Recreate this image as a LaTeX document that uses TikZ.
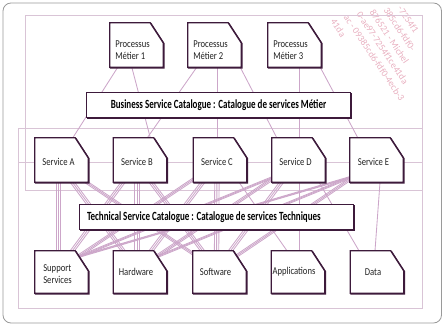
\documentclass[tikz,border=0pt]{standalone}
\usepackage{fontspec}
\setmainfont{Carlito}
\newfontfamily\cardfont[FakeStretch=0.82]{Carlito}
\newfontfamily\catfont[FakeStretch=0.72]{Carlito}
\usetikzlibrary{calc}
\pgfdeclarelayer{back}
\pgfdeclarelayer{mid}
\pgfsetlayers{back,mid,main}
\definecolor{boxline}{HTML}{3D1A3B}
\definecolor{conn}{HTML}{CCA6C9}
\definecolor{rectline}{HTML}{D9C4D6}
\definecolor{frameline}{HTML}{9A9A9A}
\definecolor{wmark}{HTML}{E8B0C0}
\definecolor{txt}{HTML}{222222}
\tikzset{
  cardbox/.style={minimum width=53pt, minimum height=44pt, inner sep=0pt},
  cardtext/.style={font=\cardfont\fontsize{10.5}{12.5}\selectfont, text=txt, align=left, inner sep=0pt},
  catbox/.style={minimum height=24pt, inner ysep=0pt, inner xsep=7pt, font=\catfont\bfseries\fontsize{12.5}{14}\selectfont, text=black},
  outline/.style={draw=boxline, line width=1.3pt, fill=white, line join=miter},
  shade/.style={draw=boxline, line width=1.3pt, line join=miter},
  link/.style={draw=conn, line width=0.85pt},
  grp/.style={draw=rectline, line width=0.9pt},
  wm/.style={font=\fontsize{9.5}{11}\selectfont, text=wmark, inner sep=0pt, anchor=north west},
}
\begin{document}
\begin{tikzpicture}[x=1pt, y=-1pt]
\useasboundingbox (0,0) rectangle (444,326);
% ---------- nodes ----------
\node[cardbox, label={[cardtext, name=p1t, xshift=-4pt, yshift=-5pt]center:Processus\\Métier 1}] (p1) at (136.5,45) {};
\node[cardbox, label={[cardtext, name=p2t, xshift=-4pt, yshift=-5pt]center:Processus\\Métier 2}] (p2) at (214.5,45) {};
\node[cardbox, label={[cardtext, name=p3t, xshift=-4pt, yshift=-5pt]center:Processus\\Métier 3}] (p3) at (294.5,45) {};
\node[catbox, minimum width=263pt] (bsc) at (218.5,105) {Business Service Catalogue : Catalogue de services Métier};
\node[cardbox, label={[cardtext, name=sat, xshift=-3pt, yshift=-2pt]center:Service A}] (sa) at (61.5,160) {};
\node[cardbox, label={[cardtext, name=sbt, xshift=-3pt, yshift=-2pt]center:Service B}] (sb) at (140,160) {};
\node[cardbox, label={[cardtext, name=sct, xshift=-3pt, yshift=-2pt]center:Service C}] (sc) at (220,160) {};
\node[cardbox, label={[cardtext, name=sdt, xshift=-3pt, yshift=-2pt]center:Service D}] (sd) at (298.5,160) {};
\node[cardbox, label={[cardtext, name=set, xshift=-3pt, yshift=-2pt]center:Service E}] (se) at (376.5,160) {};
\node[catbox, minimum width=273pt] (tsc) at (216.5,217) {\makebox[259pt][l]{Technical Service Catalogue : Catalogue de services Techniques}};
\node[cardbox, minimum height=42pt, label={[cardtext, name=sst, xshift=-4pt, yshift=-2pt]center:Support\\Services}] (ss) at (61.5,272) {};
\node[cardbox, minimum height=42pt, label={[cardtext, name=hwt, xshift=-4pt, yshift=0pt]center:Hardware}] (hw) at (140,272) {};
\node[cardbox, minimum height=42pt, label={[cardtext, name=swt, xshift=-4pt, yshift=0pt]center:Software}] (sw) at (219.5,272) {};
\node[cardbox, minimum height=42pt, label={[cardtext, name=apt, xshift=-4pt, yshift=0pt]center:Applications}] (ap) at (298,272) {};
\node[cardbox, minimum height=42pt, label={[cardtext, name=dat, xshift=-4pt, yshift=0pt]center:Data}] (da) at (377,272) {};
\coordinate (hl) at (18,162);
\coordinate (hr) at (422,162);
% ---------- background: frame, groups, watermark, connectors ----------
\begin{pgfonlayer}{back}
\draw[frameline, line width=0.8pt, rounded corners=8pt] (3,3) rectangle (441.5,323);
\begin{scope}
\clip (328,5) rectangle (431,132);
\foreach \px/\py/\tx [count=\i] in {330/18/41da, 343/14/{ac - 09385cd6-fdf0-4ecb-3}, 356/11/{0-ae97-7254f1ce41da}, 369/9/{876521 - Michel}, 383/7/{385cd6-fdf0-}, 397/5/{-7254f1}}
  \node[wm] (wm\i) at (\px,\py) {\rotatebox{-56}{\tx}};
\end{scope}
\draw[grp] (25,15) rectangle (422,190);
\draw[grp] (18,128) rectangle (422,308);
\draw[grp] (hl) -- (hr);
% business links
\draw[link] ([xshift=8pt]p1.south west) -- ([xshift=38pt]sa.north west);
\draw[link] ([xshift=22pt]p1.south west) -- ([xshift=37pt]sb.north west);
\draw[link] ([xshift=9pt]p2.south west) -- ([xshift=34pt]sb.north west);
\draw[link] ([xshift=30pt]p2.south west) -- ([xshift=24.5pt]sc.north west);
\draw[link] ([xshift=-1pt]p2.south east) -- ([xshift=5pt]sd.north west);
\draw[link] ([xshift=32pt]p3.south west) -- ([xshift=28pt]sd.north west);
\draw[link] ([xshift=-1pt]p3.south east) -- ([xshift=8pt]se.north west);
% technical links
\foreach \s/\sx in {sa/61.5,sb/140,sc/220,sd/298.5,se/376.5}
  \foreach \t/\tx in {ss/61.5,hw/140,sw/219.5} {
    \pgfmathsetmacro\os{max(-20,min(20,0.12*(\tx-\sx)))}
    \foreach \k in {-2.2,0,2.2} {
      \pgfmathsetmacro\xa{\os+(\k)-3}
      \pgfmathsetmacro\xb{(\k)-3-(\os)}
      \draw[link] ([xshift=\xa pt, yshift=6pt]\s.south) -- ([xshift=\xb pt, yshift=-6pt]\t.north);
    }
  }
\draw[link] ([xshift=19pt]sc.south) -- ([xshift=-11pt]ap.north);
\draw[link] ([xshift=0.5pt]sd.south) -- ([xshift=1pt]ap.north);
\draw[link] ([xshift=20.5pt]sd.south) -- ([xshift=-18pt]da.north);
\draw[link] ([xshift=3.5pt]se.south) -- ([xshift=-2pt]da.north);
\end{pgfonlayer}
% ---------- box outlines ----------
\begin{pgfonlayer}{mid}
\foreach \n in {p1,p2,p3,sa,sb,sc,sd,se,ss,hw,sw,ap,da} {
  \draw[shade, transform canvas={shift={(0.8pt,-0.8pt)}}] (\n.south west) -- (\n.north west) -- ([xshift=-13pt]\n.north east) -- ([yshift=-20pt]\n.north east) -- (\n.south east) -- cycle;
  \draw[outline] (\n.south west) -- (\n.north west) -- ([xshift=-13pt]\n.north east) -- ([yshift=-20pt]\n.north east) -- (\n.south east) -- cycle;
}
\foreach \n in {bsc,tsc} {
  \draw[shade, transform canvas={shift={(0.8pt,-0.8pt)}}] (\n.south west) rectangle (\n.north east);
  \draw[outline] (\n.south west) rectangle (\n.north east);
}
\end{pgfonlayer}
\end{tikzpicture}
\end{document}
